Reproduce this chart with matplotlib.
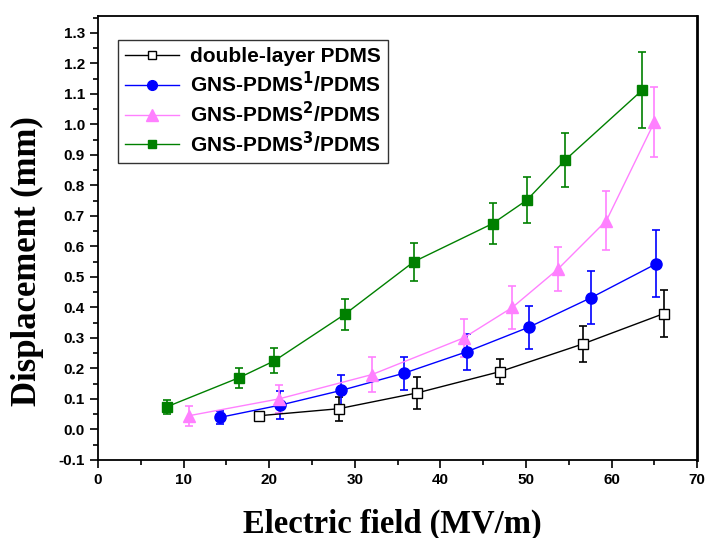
import matplotlib.pyplot as plt
from matplotlib.lines import Line2D
from matplotlib.ticker import MultipleLocator

# data
x_plain = [18.8, 28.1, 37.3, 47.0, 56.6, 66.1]
y_plain = [0.045, 0.068, 0.12, 0.19, 0.28, 0.38]
e_plain = [0.008, 0.04, 0.052, 0.041, 0.06, 0.076]

x_gns1 = [14.3, 21.3, 28.4, 35.8, 43.1, 50.3, 57.6, 65.2]
y_gns1 = [0.04, 0.08, 0.128, 0.185, 0.255, 0.335, 0.432, 0.543]
e_gns1 = [0.022, 0.046, 0.05, 0.054, 0.059, 0.07, 0.086, 0.11]

x_gns2 = [10.6, 21.1, 32.0, 42.7, 48.4, 53.7, 59.4, 65.0]
y_gns2 = [0.045, 0.1, 0.18, 0.3, 0.4, 0.525, 0.685, 1.008]
e_gns2 = [0.033, 0.047, 0.058, 0.061, 0.069, 0.072, 0.096, 0.114]

x_gns3 = [8.1, 16.5, 20.6, 28.8, 36.9, 46.1, 50.1, 54.6, 63.6]
y_gns3 = [0.075, 0.17, 0.225, 0.377, 0.55, 0.675, 0.752, 0.884, 1.113]
e_gns3 = [0.023, 0.033, 0.041, 0.05, 0.062, 0.066, 0.076, 0.089, 0.126]

labels = ["double-layer PDMS", r"GNS-PDMS$^{\mathbf{1}}$/PDMS",
          r"GNS-PDMS$^{\mathbf{2}}$/PDMS", r"GNS-PDMS$^{\mathbf{3}}$/PDMS"]

plt.rcParams['font.family'] = 'Liberation Sans'
plt.rcParams['font.weight'] = 'bold'
plt.rcParams['mathtext.default'] = 'bf'

fig = plt.figure(figsize=(7.1, 5.38), dpi=100)
ax = fig.add_axes([0.138, 0.145, 0.844, 0.825])

series = [
    (x_plain, y_plain, e_plain, 'black', 's', 'white', 7),
    (x_gns1, y_gns1, e_gns1, '#0000ff', 'o', '#0000ff', 8),
    (x_gns2, y_gns2, e_gns2, '#ff80ff', '^', '#ff80ff', 9),
    (x_gns3, y_gns3, e_gns3, '#008000', 's', '#008000', 7),
]
handles = []
for (xs, ys, es, c, m, fc, ms), lab in zip(series, labels):
    ax.errorbar(xs, ys, yerr=es, color=c, marker=m, mfc=fc, mec=c,
                ms=ms, lw=1, elinewidth=1.2, capsize=3, capthick=1.2)
    handles.append(Line2D([], [], color=c, marker=m, mfc=fc, mec=c,
                          ms=ms - 1, lw=1, label=lab))

ax.set_xlim(0, 70)
ax.set_ylim(-0.1, 1.355)
ax.xaxis.set_major_locator(MultipleLocator(10))
ax.xaxis.set_minor_locator(MultipleLocator(5))
ax.yaxis.set_minor_locator(MultipleLocator(0.05))
ax.set_yticks([i / 10 for i in range(-1, 14)])
ax.set_yticklabels(["%.1f" % (i / 10) for i in range(-1, 14)])
ax.tick_params(which='major', direction='out', length=6, width=1.2,
               labelsize=11, top=False, right=False)
ax.tick_params(which='minor', direction='out', length=3.5, width=1.2,
               top=False, right=False)
for s in ax.spines.values():
    s.set_linewidth(1.3)
ax.spines['right'].set_linewidth(2)

ax.set_xlabel("Electric field (MV/m)", family='Liberation Serif',
              fontsize=23.5, fontweight='bold', va='center')
ax.xaxis.set_label_coords(0.491, -0.144)
ax.set_ylabel("Displacement (mm)", family='Liberation Serif',
              fontsize=25, fontweight='bold')
ax.yaxis.set_label_coords(-0.09, 0.448)

leg = ax.legend(handles=handles, loc='upper left',
                bbox_to_anchor=(0.033, 0.946), borderaxespad=0,
                fontsize=15, fancybox=False, edgecolor='black',
                handlelength=2.6, handletextpad=0.5, borderpad=0.35,
                labelspacing=0.22)
leg.get_frame().set_linewidth(1)

fig.savefig("out.png", dpi=100)
